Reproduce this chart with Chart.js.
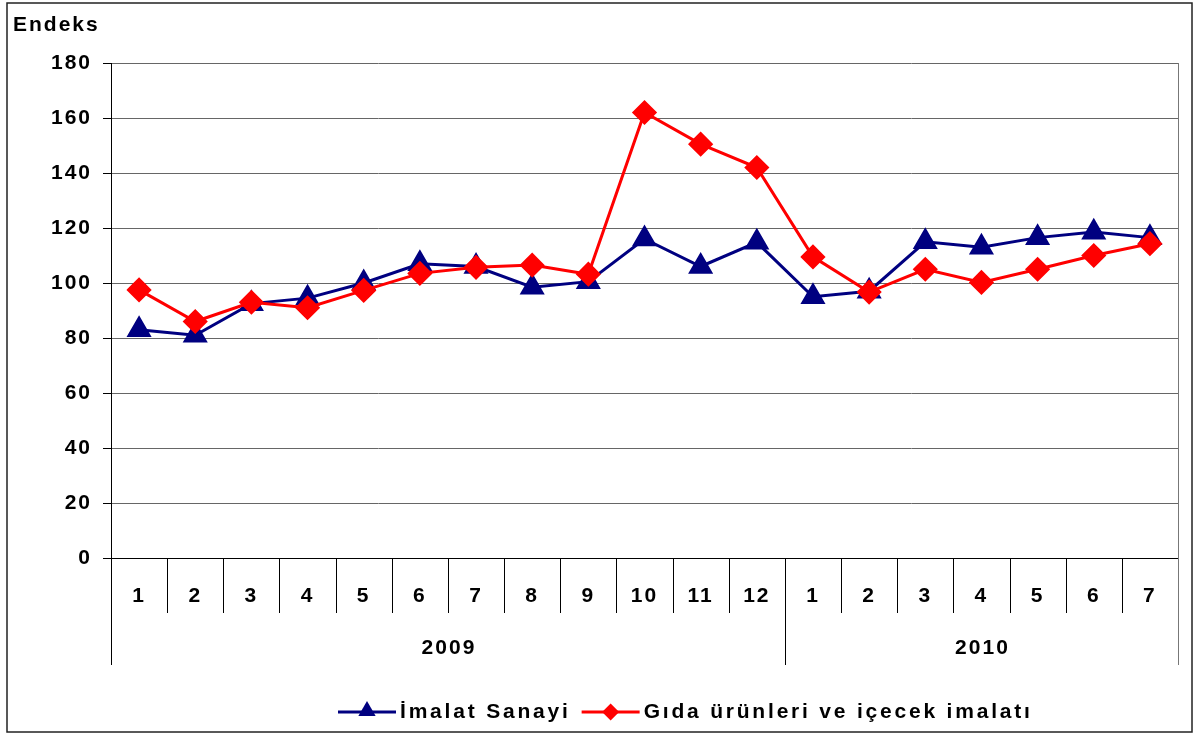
<!DOCTYPE html>
<html>
<head>
<meta charset="utf-8">
<script src="https://cdn.jsdelivr.net/npm/chart.js@4/dist/chart.umd.min.js"></script>
<style>
  body { margin: 0; background: #fff; }
  canvas { display: block; }
</style>
</head>
<body>
<canvas id="grafik" width="1196" height="736"></canvas>
<script>
// veriler
const aylar = ['1', '2', '3', '4', '5', '6', '7', '8', '9', '10', '11', '12', '1', '2', '3', '4', '5', '6', '7'];
const yillar = ['2009', '2010'];
const yilAySayisi = [12, 7];
const imalatSanayi = [83, 81, 92.5, 94.5, 100, 107, 106, 98.5, 100.5, 116, 106, 114.8, 95, 97, 115, 113, 116.5, 118.5, 116.5];
const gidaIcecek = [97.5, 86, 93, 91, 97.3, 103.5, 105.7, 106.5, 103.2, 162, 150.5, 142, 109.5, 96.7, 105, 100.2, 105, 110, 114.3];
const yTikler = [0, 20, 40, 60, 80, 100, 120, 140, 160, 180];

const FONT = '"Liberation Sans", Arial, sans-serif';
const ARALIK = '2px'; // harf aralığı
const LACIVERT = '#000080';
const KIRMIZI = '#ff0000';

function ucgen(ctx, x, y, r) {
  ctx.beginPath();
  ctx.moveTo(x, y - r);
  ctx.lineTo(x + r * 0.866, y + r * 0.5);
  ctx.lineTo(x - r * 0.866, y + r * 0.5);
  ctx.closePath();
  ctx.fill();
}
function karo(ctx, x, y, r) {
  ctx.beginPath();
  ctx.moveTo(x, y - r);
  ctx.lineTo(x + r, y);
  ctx.lineTo(x, y + r);
  ctx.lineTo(x - r, y);
  ctx.closePath();
  ctx.fill();
}

// tüm yazılarda harf aralığı
const aralik = {
  id: 'aralik',
  beforeInit(chart) { chart.ctx.letterSpacing = ARALIK; },
  beforeLayout(chart) { chart.ctx.letterSpacing = ARALIK; },
  beforeDraw(chart) { chart.ctx.letterSpacing = ARALIK; }
};

// eksen altı ayırıcılar, yıllar, başlık, lejant
const ekler = {
  id: 'ekler',
  afterDraw(chart) {
    const ctx = chart.ctx;
    const a = chart.chartArea;
    const x = chart.scales.x;
    ctx.save();
    ctx.letterSpacing = ARALIK;
    // dış çerçeve
    ctx.strokeStyle = '#222';
    ctx.lineWidth = 1.5;
    ctx.strokeRect(7, 3, 1185, 729);

    // sağ kenar
    ctx.strokeStyle = '#777';
    ctx.lineWidth = 1;
    ctx.beginPath();
    ctx.moveTo(Math.round(a.right) + 0.5, a.top);
    ctx.lineTo(Math.round(a.right) + 0.5, 665);
    ctx.stroke();

    // ay ayırıcıları
    ctx.strokeStyle = '#000';
    const genislik = x.getPixelForValue(1) - x.getPixelForValue(0);
    let sayac = 0;
    const yilSinirlari = [0];
    yilAySayisi.forEach(n => { sayac += n; yilSinirlari.push(sayac); });
    for (let i = 0; i < aylar.length; i++) {
      const px = Math.round(x.getPixelForValue(i) - genislik / 2) + 0.5;
      const yil = yilSinirlari.includes(i);
      ctx.beginPath();
      ctx.moveTo(px, a.bottom);
      ctx.lineTo(px, yil ? 665 : 613);
      ctx.stroke();
    }

    // yıllar
    ctx.fillStyle = '#000';
    ctx.font = 'bold 21px ' + FONT;
    ctx.textAlign = 'center';
    ctx.textBaseline = 'middle';
    yillar.forEach((yil, k) => {
      const bas = x.getPixelForValue(yilSinirlari[k]) - genislik / 2;
      const son = x.getPixelForValue(yilSinirlari[k + 1] - 1) + genislik / 2;
      ctx.fillText(yil, (bas + son) / 2 + 1, 648);
    });

    // başlık
    ctx.textAlign = 'left';
    ctx.fillText('Endeks', 13, 25);

    // lejant
    ctx.letterSpacing = '2.8px';
    const seriler = chart.data.datasets;
    let lx = 338;
    const ly = 712;
    [seriler[1], seriler[0]].forEach(ds => {
      ctx.strokeStyle = ds.borderColor;
      ctx.fillStyle = ds.borderColor;
      ctx.lineWidth = 3;
      ctx.beginPath();
      ctx.moveTo(lx, ly);
      ctx.lineTo(lx + 58, ly);
      ctx.stroke();
      if (ds.pointStyle === 'triangle') ucgen(ctx, lx + 29, ly - 1, 10);
      else karo(ctx, lx + 29, ly, 8.5);
      ctx.fillStyle = '#000';
      ctx.fillText(ds.label, lx + 62, ly);
      lx += 62 + ctx.measureText(ds.label).width + 11;
    });
    ctx.restore();
  }
};

new Chart(document.getElementById('grafik'), {
  type: 'line',
  data: {
    labels: aylar,
    datasets: [
      {
        label: 'Gıda ürünleri ve içecek imalatı',
        data: gidaIcecek,
        borderColor: KIRMIZI,
        backgroundColor: KIRMIZI,
        borderWidth: 3,
        pointStyle: 'rectRot',
        pointRadius: 10.5,
        pointHoverRadius: 10.5,
        tension: 0,
        order: 0
      },
      {
        label: 'İmalat Sanayi',
        data: imalatSanayi,
        borderColor: LACIVERT,
        backgroundColor: LACIVERT,
        borderWidth: 3,
        pointStyle: 'triangle',
        pointRadius: 11.5,
        pointHoverRadius: 11.5,
        tension: 0,
        order: 1
      }
    ]
  },
  options: {
    responsive: false,
    animation: false,
    devicePixelRatio: 1,
    layout: { padding: { left: 0, top: 63, right: 18, bottom: 0 } },
    plugins: {
      legend: { display: false },
      title: { display: false },
      tooltip: { enabled: false }
    },
    scales: {
      x: {
        offset: true,
        afterFit: s => { s.height = 178; },
        grid: { display: false, drawTicks: false },
        border: { display: true, color: '#000', width: 1 },
        ticks: {
          color: '#000',
          padding: 26,
          maxRotation: 0,
          autoSkip: false,
          font: { family: FONT, size: 21, weight: 'bold' }
        }
      },
      y: {
        min: 0,
        max: 180,
        afterFit: s => { s.width = 111; },
        afterBuildTicks: s => { s.ticks = yTikler.map(v => ({ value: v })); },
        grid: { color: '#666', lineWidth: 1, tickLength: 8, tickColor: '#000' },
        border: { display: true, color: '#000', width: 1 },
        ticks: {
          color: '#000',
          padding: 11,
          font: { family: FONT, size: 21, weight: 'bold' }
        }
      }
    }
  },
  plugins: [aralik, ekler]
});
</script>
</body>
</html>
